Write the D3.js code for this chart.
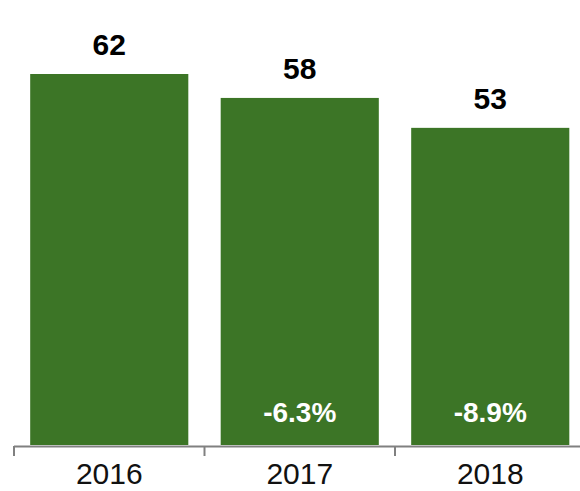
<!DOCTYPE html>
<html>
<head>
<meta charset="utf-8">
<script src="https://cdn.jsdelivr.net/npm/d3@7/dist/d3.min.js"></script>
<style>
  html, body { margin: 0; padding: 0; background: #fff; }
  svg { display: block; }
  text { font-family: "Liberation Sans", Arial, Helvetica, sans-serif; }
</style>
</head>
<body>
<svg id="chart" width="580" height="491"></svg>
<script>
// Yearly values with year-over-year change labels
const years = ["2016", "2017", "2018"];
const values = [62, 58, 53];
const changes = [null, "-6.3%", "-8.9%"];

const svg = d3.select("#chart");
const baseY = 445;
const barColor = "#3c7526";

const x = d3.scaleBand()
  .domain(years)
  .range([14, 585.5])
  .paddingInner(0.17)
  .paddingOuter(0.085);

const y = d3.scaleLinear()
  .domain([0, 62])
  .range([baseY, 74]);

// Bars
svg.append("g").selectAll("rect")
  .data(years)
  .join("rect")
  .attr("x", d => x(d))
  .attr("y", (d, i) => y(values[i]))
  .attr("width", x.bandwidth())
  .attr("height", (d, i) => baseY - y(values[i]))
  .attr("fill", barColor);

// Value labels above bars
svg.append("g").selectAll("text")
  .data(years)
  .join("text")
  .attr("x", d => x(d) + x.bandwidth() / 2)
  .attr("y", (d, i) => y(values[i]) - 19)
  .attr("text-anchor", "middle")
  .attr("font-size", 30)
  .attr("font-weight", "bold")
  .attr("fill", "#000")
  .text((d, i) => values[i]);

// Change labels inside bars
svg.append("g").selectAll("text")
  .data(years.filter((d, i) => changes[i] !== null))
  .join("text")
  .attr("x", d => x(d) + x.bandwidth() / 2)
  .attr("y", 422)
  .attr("text-anchor", "middle")
  .attr("font-size", 28)
  .attr("font-weight", "bold")
  .attr("fill", "#fff")
  .text(d => changes[years.indexOf(d)]);

// Category axis with ticks at band edges
const axisColor = "#808080";
const axisG = svg.append("g");
axisG.append("line")
  .attr("x1", 14).attr("x2", 585.5)
  .attr("y1", baseY + 1.5).attr("y2", baseY + 1.5)
  .attr("stroke", axisColor).attr("stroke-width", 2);

const edges = years.map(d => x(d) - x.step() * x.paddingInner() / 2);
axisG.selectAll("line.tick")
  .data(edges)
  .join("line")
  .attr("class", "tick")
  .attr("x1", d => d).attr("x2", d => d)
  .attr("y1", baseY + 1).attr("y2", baseY + 11)
  .attr("stroke", axisColor).attr("stroke-width", 2);

axisG.selectAll("text")
  .data(years)
  .join("text")
  .attr("x", d => x(d) + x.bandwidth() / 2)
  .attr("y", 484)
  .attr("text-anchor", "middle")
  .attr("font-size", 30)
  .attr("fill", "#111")
  .text(d => d);
</script>
</body>
</html>
